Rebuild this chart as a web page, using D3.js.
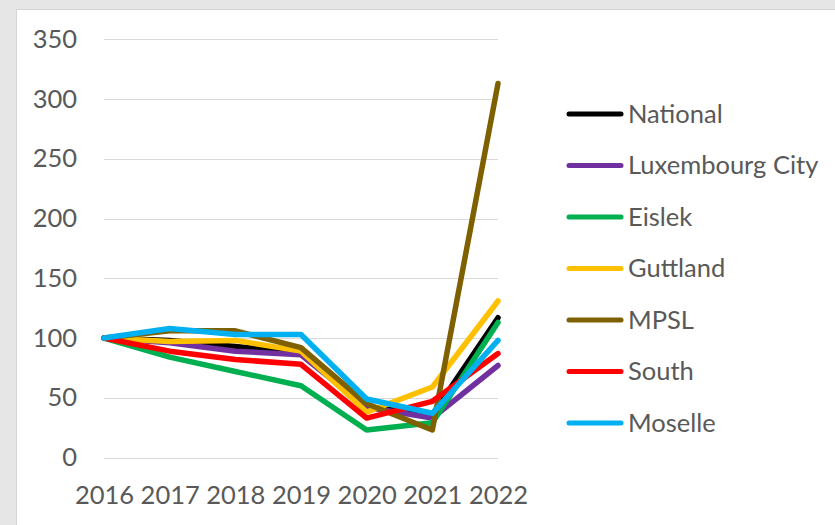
<!DOCTYPE html>
<html>
<head>
<meta charset="utf-8">
<script src="https://cdn.jsdelivr.net/npm/d3@7"></script>
<style>
  html, body { margin: 0; padding: 0; background: #e6e6e6; }
  svg { display: block; }
</style>
</head>
<body>
<svg id="chart" width="835" height="525"></svg>
<script>
// Index values per region (2016 = 100)
const years = ["2016", "2017", "2018", "2019", "2020", "2021", "2022"];
const seriesNames = ["National", "Luxembourg City", "Eislek", "Guttland", "MPSL", "South", "Moselle"];
const national   = [100, 98, 93, 87, 42, 36, 117];
const luxCity    = [100, 96, 89, 86, 42, 33, 77];
const eislek     = [100, 84, 72, 60, 23, 29, 113];
const guttland   = [100, 97, 98, 89, 38, 59, 131];
const mpsl       = [100, 106, 106, 92, 45, 23, 313];
const south      = [100, 89, 82, 78, 33, 47, 87];
const moselle    = [100, 108, 103, 103, 49, 37, 98];
const yTicks = [0, 50, 100, 150, 200, 250, 300, 350];
const colors = ["#000000", "#7030a0", "#00b050", "#ffc000", "#7f6000", "#ff0000", "#00b0f0"];

const seriesValues = [national, luxCity, eislek, guttland, mpsl, south, moselle];
const series = seriesNames.map((name, i) => ({ name, values: seriesValues[i], color: colors[i] }));

const svg = d3.select("#chart");
const font = "Lato, 'Open Sans', sans-serif";
const textColor = "#595959";
const fontSize = "25.5px";

// chart panel
svg.append("rect")
  .attr("x", 16.5).attr("y", 9.5)
  .attr("width", 830).attr("height", 530)
  .attr("fill", "#ffffff")
  .attr("stroke", "#d4d4d4");

const plot = { left: 104, right: 498, top: 39.3, bottom: 457.5 };

const x = d3.scalePoint().domain(years).range([plot.left, plot.right]);
const y = d3.scaleLinear().domain([0, 350]).range([plot.bottom, plot.top]);

// horizontal gridlines
svg.append("g")
  .selectAll("line")
  .data(yTicks)
  .join("line")
  .attr("x1", plot.left).attr("x2", plot.right)
  .attr("y1", d => Math.round(y(d)) + 0.5).attr("y2", d => Math.round(y(d)) + 0.5)
  .attr("stroke", "#d9d9d9")
  .attr("stroke-width", 1);

// y axis labels
const yAxis = d3.axisLeft(y).tickValues(yTicks).tickSize(0).tickPadding(0);
const gy = svg.append("g").attr("transform", "translate(77,0)").call(yAxis);
gy.select(".domain").remove();
gy.selectAll("text")
  .attr("fill", textColor)
  .style("font-family", font)
  .style("font-size", fontSize);

// x axis labels
const xAxis = d3.axisBottom(x).tickSize(0).tickPadding(0);
const gx = svg.append("g").attr("transform", "translate(0,486)").call(xAxis);
gx.select(".domain").remove();
gx.selectAll("text")
  .attr("fill", textColor)
  .attr("dy", "0.71em")
  .style("font-family", font)
  .style("font-size", fontSize);

// series lines
const line = d3.line()
  .x((d, i) => x(years[i]))
  .y(d => y(d));

svg.append("g")
  .selectAll("path")
  .data(series)
  .join("path")
  .attr("d", d => line(d.values))
  .attr("fill", "none")
  .attr("stroke", d => d.color)
  .attr("stroke-width", 5.5)
  .attr("stroke-linejoin", "round")
  .attr("stroke-linecap", "round");

// legend
const legend = svg.append("g");
const rowY = d3.scalePoint().domain(seriesNames).range([114, 423]);
const items = legend.selectAll("g")
  .data(series)
  .join("g")
  .attr("transform", d => `translate(0,${rowY(d.name)})`);
items.append("line")
  .attr("x1", 569).attr("x2", 621)
  .attr("stroke", d => d.color)
  .attr("stroke-width", 5)
  .attr("stroke-linecap", "round");
items.append("text")
  .attr("x", 628)
  .attr("dy", "0.35em")
  .attr("fill", textColor)
  .style("font-family", font)
  .style("font-size", fontSize)
  .text(d => d.name);
</script>
</body>
</html>
